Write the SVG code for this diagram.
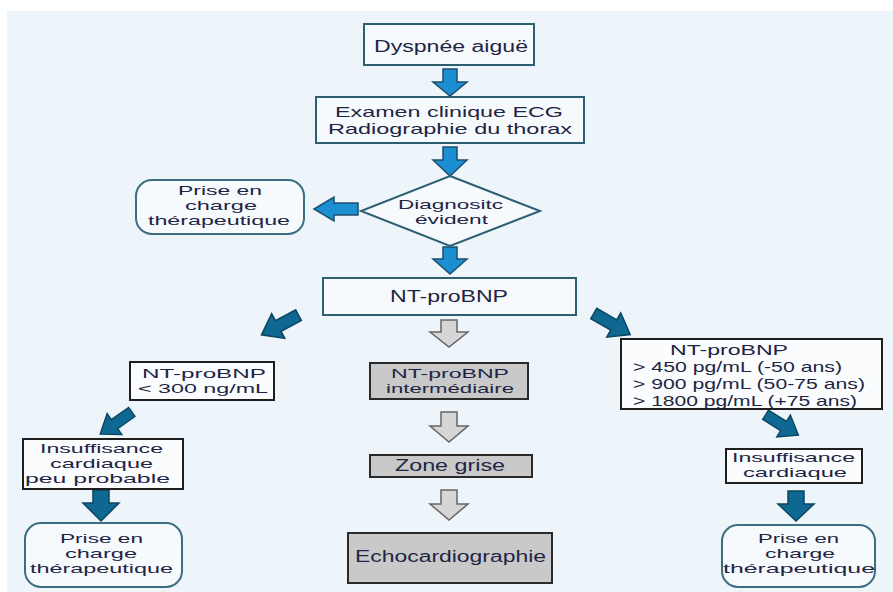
<svg xmlns="http://www.w3.org/2000/svg" width="893" height="592" viewBox="0 0 893 592">
<style>
.box{fill:#f7fafd;stroke:#2c5f70;stroke-width:2}
.bbox{fill:#fbfcfd;stroke:#1e1e1e;stroke-width:2}
.gbox{fill:#c9c9c9;stroke:#2a2a2a;stroke-width:2}
.rbox{fill:#f7fafd;stroke:#3a6e80;stroke-width:2}
.t{font-family:"Liberation Sans",Arial,sans-serif;font-size:16px;fill:#1e2544}
.s{font-size:13px}
.m{font-size:15px}
.ab{fill:#1c8fd2;stroke:#1d4e6c;stroke-width:1.5}
.ad{fill:#0e6891;stroke:#0a4560;stroke-width:1.5}
.ag{fill:#d6d6d6;stroke:#666;stroke-width:1.5}
</style>
<defs>
<path id="diag" d="M-6,-21 H6 V2 H14 L0,21 L-14,2 H-6 Z"/>
</defs>
<rect x="0" y="0" width="893" height="592" fill="#ffffff"/>
<rect x="7" y="11" width="886" height="581" fill="#edf4fa"/>

<g id="connectors">
<path class="ab" d="M443,69 H457 V82 H467 L450,96 L433,82 H443 Z"/>
<path class="ab" d="M443,147 H457 V160 H467 L450,176 L433,160 H443 Z"/>
<path class="ab" d="M358,203 V215 H334 V221 L314,209 L334,197 V203 Z"/>
<path class="ab" d="M443,247 H457 V259 H467 L450,274 L433,259 H443 Z"/>
<use href="#diag" class="ad" transform="translate(280,325) rotate(62)"/>
<use href="#diag" class="ad" transform="translate(612,324) rotate(-60)"/>
<use href="#diag" class="ad" transform="translate(782,425) rotate(-58) scale(0.92)"/>
<use href="#diag" class="ad" transform="translate(116,423) rotate(55) scale(0.92)"/>
<path class="ad" d="M93,490 H109 V503 H119 L101,521 L83,503 H93 Z"/>
<path class="ad" d="M788,491 H804 V504 H814 L796,521 L778,504 H788 Z"/>
<path class="ag" d="M441,320 H457 V332 H468 L449,347 L430,332 H441 Z"/>
<path class="ag" d="M441,412 H457 V426 H468 L449,442 L430,426 H441 Z"/>
<path class="ag" d="M441,490 H457 V504 H468 L449,520 L430,504 H441 Z"/>
</g>

<g id="n1">
<rect class="box" x="364" y="24" width="170" height="41"/>
<text class="t" x="374" y="52" font-size="17" textLength="154" lengthAdjust="spacingAndGlyphs">Dyspnée aiguë</text>
</g>
<g id="n2">
<rect class="box" x="316" y="97" width="268" height="46"/>
<text class="t m" x="335" y="117" textLength="228" lengthAdjust="spacingAndGlyphs">Examen clinique ECG</text>
<text class="t m" x="328" y="134" textLength="244" lengthAdjust="spacingAndGlyphs">Radiographie du thorax</text>
</g>
<g id="n3">
<polygon class="box" points="450,176 540,211 450,246 361,211"/>
<text class="t s" x="398" y="209" textLength="105" lengthAdjust="spacingAndGlyphs">Diagnositc</text>
<text class="t s" x="415" y="224" textLength="73" lengthAdjust="spacingAndGlyphs">évident</text>
</g>
<g id="n4">
<rect class="rbox" x="136" y="180" width="168" height="54" rx="16"/>
<text class="t s" x="178" y="195" textLength="84" lengthAdjust="spacingAndGlyphs">Prise en</text>
<text class="t s" x="185" y="210" textLength="72" lengthAdjust="spacingAndGlyphs">charge</text>
<text class="t s" x="148" y="225" textLength="142" lengthAdjust="spacingAndGlyphs">thérapeutique</text>
</g>
<g id="n5">
<rect class="box" x="323" y="278" width="253" height="37"/>
<text class="t" x="390" y="302" textLength="118" lengthAdjust="spacingAndGlyphs">NT-proBNP</text>
</g>
<g id="n6">
<rect class="bbox" x="130" y="362" width="144" height="38"/>
<text class="t s" x="142" y="378" textLength="124" lengthAdjust="spacingAndGlyphs">NT-proBNP</text>
<text class="t s" x="138" y="393" textLength="130" lengthAdjust="spacingAndGlyphs">&lt; 300 ng/mL</text>
</g>
<g id="n7">
<rect class="gbox" x="370" y="363" width="158" height="36"/>
<text class="t s" x="391" y="378" textLength="118" lengthAdjust="spacingAndGlyphs">NT-proBNP</text>
<text class="t s" x="386" y="393" textLength="128" lengthAdjust="spacingAndGlyphs">intermédiaire</text>
</g>
<g id="n8">
<rect class="bbox" x="621" y="339" width="261" height="70"/>
<text class="t m" x="670" y="355" textLength="118" lengthAdjust="spacingAndGlyphs">NT-proBNP</text>
<text class="t m" x="633" y="372" textLength="209" lengthAdjust="spacingAndGlyphs">&gt; 450 pg/mL (-50 ans)</text>
<text class="t m" x="633" y="389" textLength="232" lengthAdjust="spacingAndGlyphs">&gt; 900 pg/mL (50-75 ans)</text>
<text class="t m" x="633" y="406" textLength="224" lengthAdjust="spacingAndGlyphs">&gt; 1800 pg/mL (+75 ans)</text>
</g>
<g id="n9">
<rect class="bbox" x="23" y="439" width="160" height="50"/>
<text class="t s" x="40" y="453" textLength="123" lengthAdjust="spacingAndGlyphs">Insuffisance</text>
<text class="t s" x="50" y="468" textLength="103" lengthAdjust="spacingAndGlyphs">cardiaque</text>
<text class="t s" x="25" y="483" textLength="145" lengthAdjust="spacingAndGlyphs">peu probable</text>
</g>
<g id="n10">
<rect class="gbox" x="370" y="455" width="162" height="22"/>
<text class="t" x="395" y="471" textLength="110" lengthAdjust="spacingAndGlyphs">Zone grise</text>
</g>
<g id="n11">
<rect class="bbox" x="726" y="449" width="136" height="34"/>
<text class="t s" x="732" y="462" textLength="123" lengthAdjust="spacingAndGlyphs">Insuffisance</text>
<text class="t s" x="743" y="477" textLength="104" lengthAdjust="spacingAndGlyphs">cardiaque</text>
</g>
<g id="n12">
<rect class="rbox" x="25" y="523" width="157" height="64" rx="16"/>
<text class="t s" x="60" y="543" textLength="83" lengthAdjust="spacingAndGlyphs">Prise en</text>
<text class="t s" x="65" y="558" textLength="72" lengthAdjust="spacingAndGlyphs">charge</text>
<text class="t s" x="30" y="573" textLength="143" lengthAdjust="spacingAndGlyphs">thérapeutique</text>
</g>
<g id="n13">
<rect class="gbox" x="348" y="533" width="204" height="50"/>
<text class="t" x="355" y="562" textLength="191" lengthAdjust="spacingAndGlyphs">Echocardiographie</text>
</g>
<g id="n14">
<rect class="rbox" x="722" y="525" width="153" height="62" rx="16"/>
<text class="t s" x="758" y="543" textLength="81" lengthAdjust="spacingAndGlyphs">Prise en</text>
<text class="t s" x="765" y="558" textLength="70" lengthAdjust="spacingAndGlyphs">charge</text>
<text class="t s" x="723" y="573" textLength="152" lengthAdjust="spacingAndGlyphs">thérapeutique</text>
</g>
</svg>
